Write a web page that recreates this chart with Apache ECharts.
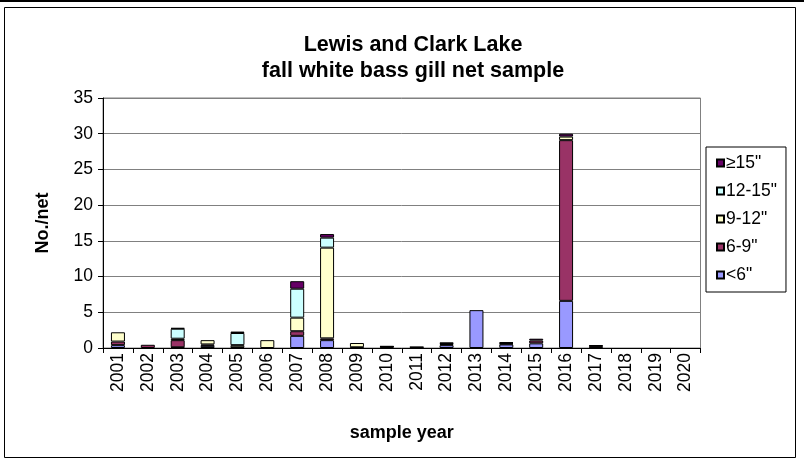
<!DOCTYPE html>
<html>
<head>
<meta charset="utf-8">
<script src="https://cdn.jsdelivr.net/npm/echarts@6/dist/echarts.min.js"></script>
<style>
  html, body { margin: 0; padding: 0; background: #fff; }
  #chart { width: 804px; height: 460px; }
</style>
</head>
<body>
<div id="chart"></div>
<script>
// Sample years (x axis categories)
const years = ['2001','2002','2003','2004','2005','2006','2007','2008','2009','2010',
               '2011','2012','2013','2014','2015','2016','2017','2018','2019','2020'];

// Catch per net by length group (inches)
const under6   = [0.4, 0,    0.1, 0.3, 0.1, 0,   1.7,  1.1,  0.1, 0.15, 0.1,  0.4,  5.3, 0.5, 0.65, 6.6,  0.1, 0, 0, 0];
const len6to9  = [0.5, 0.45, 1.0, 0.2, 0,   0,   0.65, 0.25, 0,   0.05, 0.05, 0.15, 0,   0.1, 0.4,  22.5, 0.2, 0, 0, 0];
const len9to12 = [1.3, 0,    0.2, 0.6, 0.3, 1.1, 1.9,  12.7, 0.6, 0.05, 0,    0.1,  0,   0.1, 0,    0.5,  0,   0, 0, 0];
const len12to15= [0,   0,    1.4, 0,   1.7, 0,   4.05, 1.4,  0,   0,    0,    0,    0,   0,   0,    0,    0,   0, 0, 0];
const len15plus= [0,   0,    0.1, 0,   0.2, 0,   1.05, 0.5,  0,   0,    0,    0.1,  0,   0.1, 0.25, 0.4,  0.1, 0, 0, 0];

// Y axis ticks
const yMin = 0, yMax = 35, yStep = 5;

const FONT = '"Liberation Sans", Arial, sans-serif';

// Empty groups are left undrawn so no outline appears for them
const clean = arr => arr.map(v => (v === 0 ? null : v));

function seriesFor(name, data, color) {
  return {
    name: name,
    type: 'bar',
    stack: 'total',
    data: clean(data),
    barWidth: 14,
    itemStyle: { color: color, borderColor: '#000', borderWidth: 1 },
    emphasis: { disabled: true }
  };
}

const chart = echarts.init(document.getElementById('chart'), null, { renderer: 'canvas' });

chart.setOption({
  animation: false,
  backgroundColor: '#fff',
  textStyle: { fontFamily: FONT },
  title: {
    text: 'Lewis and Clark Lake\nfall white bass gill net sample',
    left: 408,
    top: 27,
    textAlign: 'center',
    textStyle: { fontFamily: FONT, fontSize: 21.5, fontWeight: 'bold', color: '#000', lineHeight: 26 }
  },
  legend: {
    orient: 'vertical',
    left: 706,
    top: 147,
    data: ['\u226515"', '12-15"', '9-12"', '6-9"', '<6"'],
    icon: 'rect',
    itemWidth: 7,
    itemHeight: 7,
    itemGap: 10,
    padding: [7, 9, 8, 10],
    borderColor: '#000',
    borderWidth: 1,
    textStyle: { fontFamily: FONT, fontSize: 17.5, lineHeight: 18, color: '#000', padding: [0, 0, 0, -3] },
    selectedMode: false
  },
  grid: {
    left: 103,
    right: 103.5,
    top: 98,
    bottom: 112,
    show: true,
    borderColor: '#808080',
    borderWidth: 1
  },
  xAxis: {
    type: 'category',
    data: years,
    name: 'sample year',
    nameLocation: 'middle',
    nameGap: 76,
    nameTextStyle: { fontFamily: FONT, fontSize: 18, fontWeight: 'bold', color: '#000' },
    axisLine: { lineStyle: { color: '#000', width: 1 } },
    axisTick: { show: true, alignWithLabel: false, length: 5, lineStyle: { color: '#000' } },
    axisLabel: { rotate: 90, fontFamily: FONT, fontSize: 17.5, color: '#000', margin: 5, interval: 0 },
    splitLine: { show: false }
  },
  yAxis: {
    type: 'value',
    min: yMin,
    max: yMax,
    interval: yStep,
    name: 'No./net',
    nameLocation: 'middle',
    nameGap: 51,
    nameTextStyle: { fontFamily: FONT, fontSize: 18, fontWeight: 'bold', color: '#000' },
    axisLine: { show: true, lineStyle: { color: '#000', width: 1 } },
    axisTick: { show: true, inside: false, length: 5, lineStyle: { color: '#000' } },
    axisLabel: { fontFamily: FONT, fontSize: 17.5, color: '#000', margin: 10 },
    splitLine: { show: true, lineStyle: { color: '#808080', width: 1 } }
  },
  graphic: [
    {
      type: 'rect',
      shape: { x: 4.5, y: 7.5, width: 791, height: 450 },
      style: { fill: 'none', stroke: '#000', lineWidth: 1 },
      silent: true
    },
    {
      type: 'rect',
      shape: { x: 0, y: 0, width: 804, height: 2 },
      style: { fill: '#000' },
      silent: true
    }
  ],
  series: [
    seriesFor('<6"', under6, '#9999FF'),
    seriesFor('6-9"', len6to9, '#993366'),
    seriesFor('9-12"', len9to12, '#FFFFCC'),
    seriesFor('12-15"', len12to15, '#CCFFFF'),
    seriesFor('\u226515"', len15plus, '#660066')
  ]
});
</script>
</body>
</html>
